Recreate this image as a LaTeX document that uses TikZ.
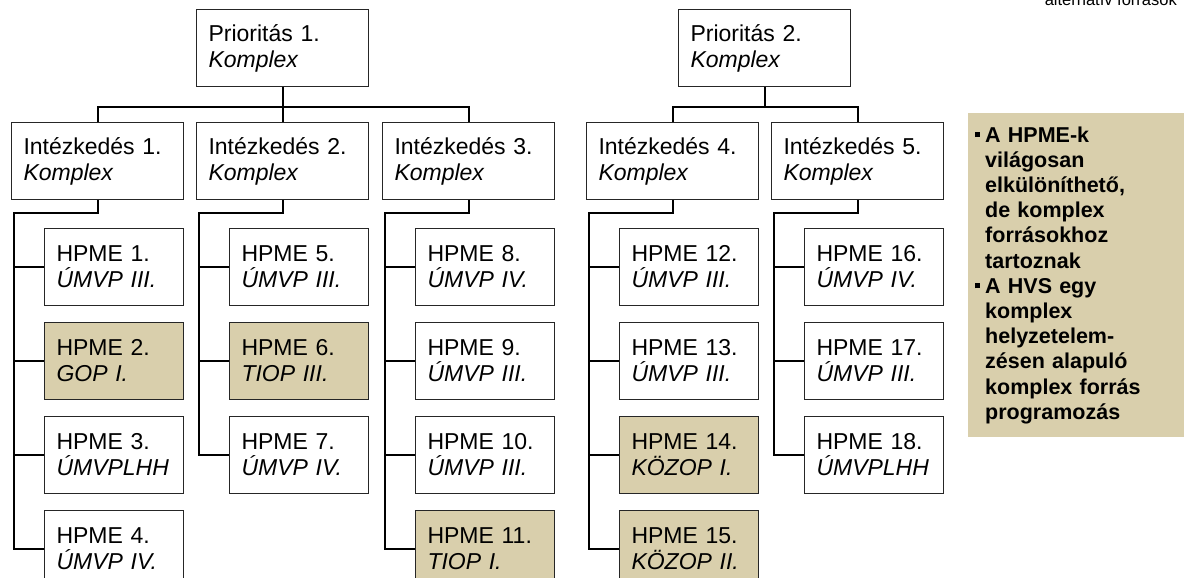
\documentclass[tikz,border=0pt]{standalone}
\usepackage{fontspec}
\setmainfont{Liberation Sans}
\usepackage{tikz}
\usetikzlibrary{calc,positioning}
\definecolor{tanfill}{RGB}{217,207,172}
\newcommand{\sqbul}{\makebox[10pt][l]{\rule[5pt]{5pt}{5pt}}}
\newcommand{\sqind}{\hspace*{10pt}}

\begin{document}
\begin{tikzpicture}[x=1pt,y=-1pt,
  box/.style={draw=black!85,line width=1pt,fill=white,rectangle,minimum height=77pt,
    text width=148pt,inner xsep=12pt,inner ysep=0pt,align=left,font=\fontsize{23}{26}\selectfont},
  leaf/.style={box,text width=115pt},
  pick/.style={fill=tanfill},
  link/.style={line width=2pt,black},
  note/.style={fill=tanfill,minimum width=216pt,minimum height=324pt,text width=202pt,
    inner xsep=7pt,inner ysep=0pt,align=left,font=\bfseries\fontsize{21.5}{25.2}\selectfont}]
\useasboundingbox (0,0) rectangle (1184,578);
\clip (0,0) rectangle (1184,578);

% priorities and measures
\node[box,anchor=north west] (p1) at (196,9) {Prioritás 1.\\\textit{Komplex}};
\node[box,anchor=north west] (p2) at (678,9) {Prioritás 2.\\\textit{Komplex}};
\node[box,anchor=north west] (i1) at (11,122) {Intézkedés 1.\\\textit{Komplex}};
\node[box,anchor=north west] (i2) at (196,122) {Intézkedés 2.\\\textit{Komplex}};
\node[box,anchor=north west] (i3) at (382,122) {Intézkedés 3.\\\textit{Komplex}};
\node[box,anchor=north west] (i4) at (586,122) {Intézkedés 4.\\\textit{Komplex}};
\node[box,anchor=north west] (i5) at (771,122) {Intézkedés 5.\\\textit{Komplex}};

% HPME boxes
\node[leaf,anchor=north east] (h1) at ($(i1.south east)+(0,28)$) {HPME 1.\\\textit{ÚMVP III.}};
\node[leaf,pick,below=16pt of h1] (h2) {HPME 2.\\\textit{GOP I.}};
\node[leaf,below=16pt of h2] (h3) {HPME 3.\\\textit{ÚMVPLHH}};
\node[leaf,below=16pt of h3] (h4) {HPME 4.\\\textit{ÚMVP IV.}};

\node[leaf,anchor=north east] (h5) at ($(i2.south east)+(0,28)$) {HPME 5.\\\textit{ÚMVP III.}};
\node[leaf,pick,below=16pt of h5] (h6) {HPME 6.\\\textit{TIOP III.}};
\node[leaf,below=16pt of h6] (h7) {HPME 7.\\\textit{ÚMVP IV.}};

\node[leaf,anchor=north east] (h8) at ($(i3.south east)+(0,28)$) {HPME 8.\\\textit{ÚMVP IV.}};
\node[leaf,below=16pt of h8] (h9) {HPME 9.\\\textit{ÚMVP III.}};
\node[leaf,below=16pt of h9] (h10) {HPME 10.\\\textit{ÚMVP III.}};
\node[leaf,pick,below=16pt of h10] (h11) {HPME 11.\\\textit{TIOP I.}};

\node[leaf,anchor=north east] (h12) at ($(i4.south east)+(0,28)$) {HPME 12.\\\textit{ÚMVP III.}};
\node[leaf,below=16pt of h12] (h13) {HPME 13.\\\textit{ÚMVP III.}};
\node[leaf,pick,below=16pt of h13] (h14) {HPME 14.\\\textit{KÖZOP I.}};
\node[leaf,pick,below=16pt of h14] (h15) {HPME 15.\\\textit{KÖZOP II.}};

\node[leaf,anchor=north east] (h16) at ($(i5.south east)+(0,28)$) {HPME 16.\\\textit{ÚMVP IV.}};
\node[leaf,below=16pt of h16] (h17) {HPME 17.\\\textit{ÚMVP III.}};
\node[leaf,below=16pt of h17] (h18) {HPME 18.\\\textit{ÚMVPLHH}};

% top links
\draw[link] (p1.south) -- ++(0,20) coordinate (b1);
\draw[link] (i1.north) |- (b1) -| (i3.north);
\draw[link] (b1) -- (i2.north);
\draw[link] (p2.south) -- ++(0,20) coordinate (b2);
\draw[link] (i4.north) |- (b2) -| (i5.north);

% spines
\coordinate (s1) at ($(i1.south west)+(3,13)$);
\coordinate (s2) at ($(i2.south west)+(3,13)$);
\coordinate (s3) at ($(i3.south west)+(2.5,13)$);
\coordinate (s4) at ($(i4.south west)+(2.5,13)$);
\coordinate (s5) at ($(i5.south west)+(2.5,13)$);
\draw[link] (i1.south) |- (s1) |- (h4.west);
\draw[link] (i2.south) |- (s2) |- (h7.west);
\draw[link] (i3.south) |- (s3) |- (h11.west);
\draw[link] (i4.south) |- (s4) |- (h15.west);
\draw[link] (i5.south) |- (s5) |- (h18.west);
\foreach \h in {h1,h2,h3} \draw[link] (s1 |- \h.west) -- (\h.west);
\foreach \h in {h5,h6} \draw[link] (s2 |- \h.west) -- (\h.west);
\foreach \h in {h8,h9,h10} \draw[link] (s3 |- \h.west) -- (\h.west);
\foreach \h in {h12,h13,h14} \draw[link] (s4 |- \h.west) -- (\h.west);
\foreach \h in {h16,h17} \draw[link] (s5 |- \h.west) -- (\h.west);

% side note
\node[note,anchor=north west] (notes) at (968,113) {\sqbul A HPME-k\\
\sqind világosan\\
\sqind elkülöníthető,\\
\sqind de komplex\\
\sqind forrásokhoz\\
\sqind tartoznak\\
\sqbul A HVS egy\\
\sqind komplex\\
\sqind helyzetelem-\\
\sqind zésen alapuló\\
\sqind komplex forrás\\
\sqind programozás};
\node[anchor=base east,inner sep=0pt,font=\fontsize{16.5}{18}\selectfont] (corner) at (1177,6) {alternatív források};
\end{tikzpicture}
\end{document}
